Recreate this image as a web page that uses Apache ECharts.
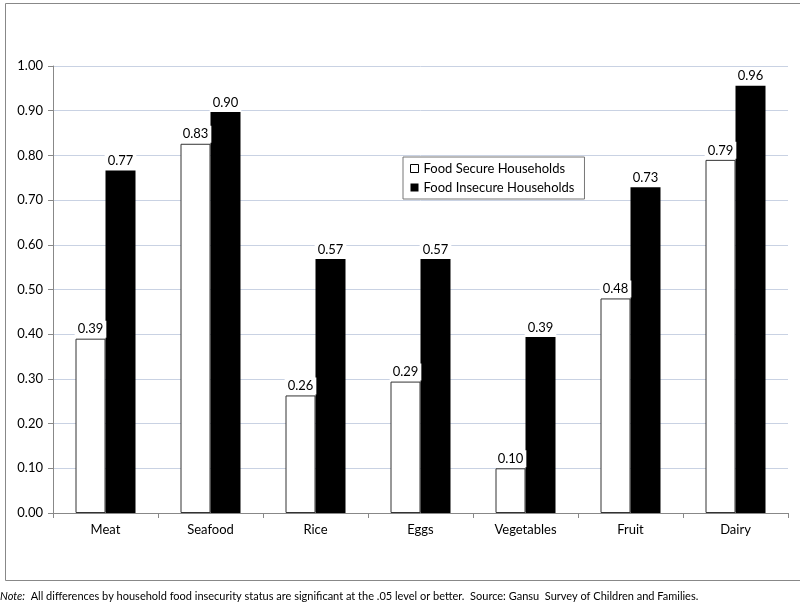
<!DOCTYPE html>
<html>
<head>
<meta charset="utf-8">
<script src="https://cdn.jsdelivr.net/npm/echarts@6/dist/echarts.min.js"></script>
<style>html,body{margin:0;padding:0;background:#fff;}#c{width:800px;height:604px;}</style>
</head>
<body>
<div id="c"></div>
<script>
var categories = ['Meat', 'Seafood', 'Rice', 'Eggs', 'Vegetables', 'Fruit', 'Dairy'];
var secure = [0.39, 0.826, 0.263, 0.294, 0.10, 0.48, 0.79];
var insecure = [0.766, 0.897, 0.568, 0.568, 0.394, 0.729, 0.956];
var seriesNames = ['Food Secure Households', 'Food Insecure Households'];
var yTicks = { min: 0, max: 1, interval: 0.1 };

var FONT = 'Lato, "Open Sans", sans-serif';
var chart = echarts.init(document.getElementById('c'));
var labelCfg = {
  show: true, position: 'top', distance: 1,
  formatter: function (p) { return p.value.toFixed(2); },
  color: '#000', fontFamily: FONT, fontSize: 13,
  backgroundColor: '#fff', padding: [2, 3, 2, 3]
};
chart.setOption({
  animation: false,
  backgroundColor: '#fff',
  grid: { left: 53, right: 12, top: 66, bottom: 91 },
  legend: {
    orient: 'vertical', left: 403, top: 157,
    itemWidth: 8, itemHeight: 8, itemGap: 6,
    backgroundColor: '#fff', borderColor: '#777', borderWidth: 1,
    padding: [5, 10, 5, 7],
    textStyle: { fontFamily: FONT, fontSize: 13, color: '#000' },
    data: [
      { name: seriesNames[0], icon: 'rect', itemStyle: { color: '#fff', borderColor: '#000', borderWidth: 1 } },
      { name: seriesNames[1], icon: 'rect', itemStyle: { color: '#000' } }
    ]
  },
  xAxis: {
    type: 'category', data: categories,
    axisLine: { lineStyle: { color: '#888' } },
    axisTick: { show: true, length: 5, lineStyle: { color: '#888' } },
    axisLabel: { color: '#000', fontFamily: FONT, fontSize: 13, margin: 10 }
  },
  yAxis: {
    type: 'value', min: yTicks.min, max: yTicks.max, interval: yTicks.interval,
    axisLine: { show: true, lineStyle: { color: '#888' } },
    axisTick: { show: true, length: 5, lineStyle: { color: '#888' } },
    axisLabel: { color: '#000', fontFamily: FONT, fontSize: 13, margin: 10, formatter: function (v) { return v.toFixed(2); } },
    splitLine: { lineStyle: { color: '#c9d2e3' } }
  },
  series: [
    { name: seriesNames[0], type: 'bar', data: secure, barWidth: 30, barGap: '0%',
      itemStyle: { color: '#fff', borderColor: '#333', borderWidth: 1 }, label: labelCfg },
    { name: seriesNames[1], type: 'bar', data: insecure, barWidth: 30, barGap: '0%',
      itemStyle: { color: '#000' }, label: labelCfg }
  ],
  graphic: [
    { type: 'rect', left: 3, top: 1, shape: { width: 795, height: 577 }, style: { fill: 'none', stroke: '#888', lineWidth: 1 }, silent: true, z: -1 },
    { type: 'text', left: 0, top: 591, style: {
      text: '{i|Note:}  All differences by household food insecurity status are significant at the .05 level or better.  Source: Gansu  Survey of Children and Families.',
      fontFamily: FONT, fontSize: 11, fill: '#000',
      rich: { i: { fontStyle: 'italic', fontFamily: FONT, fontSize: 11, fill: '#000' } }
    } }
  ]
});
</script>
</body>
</html>
